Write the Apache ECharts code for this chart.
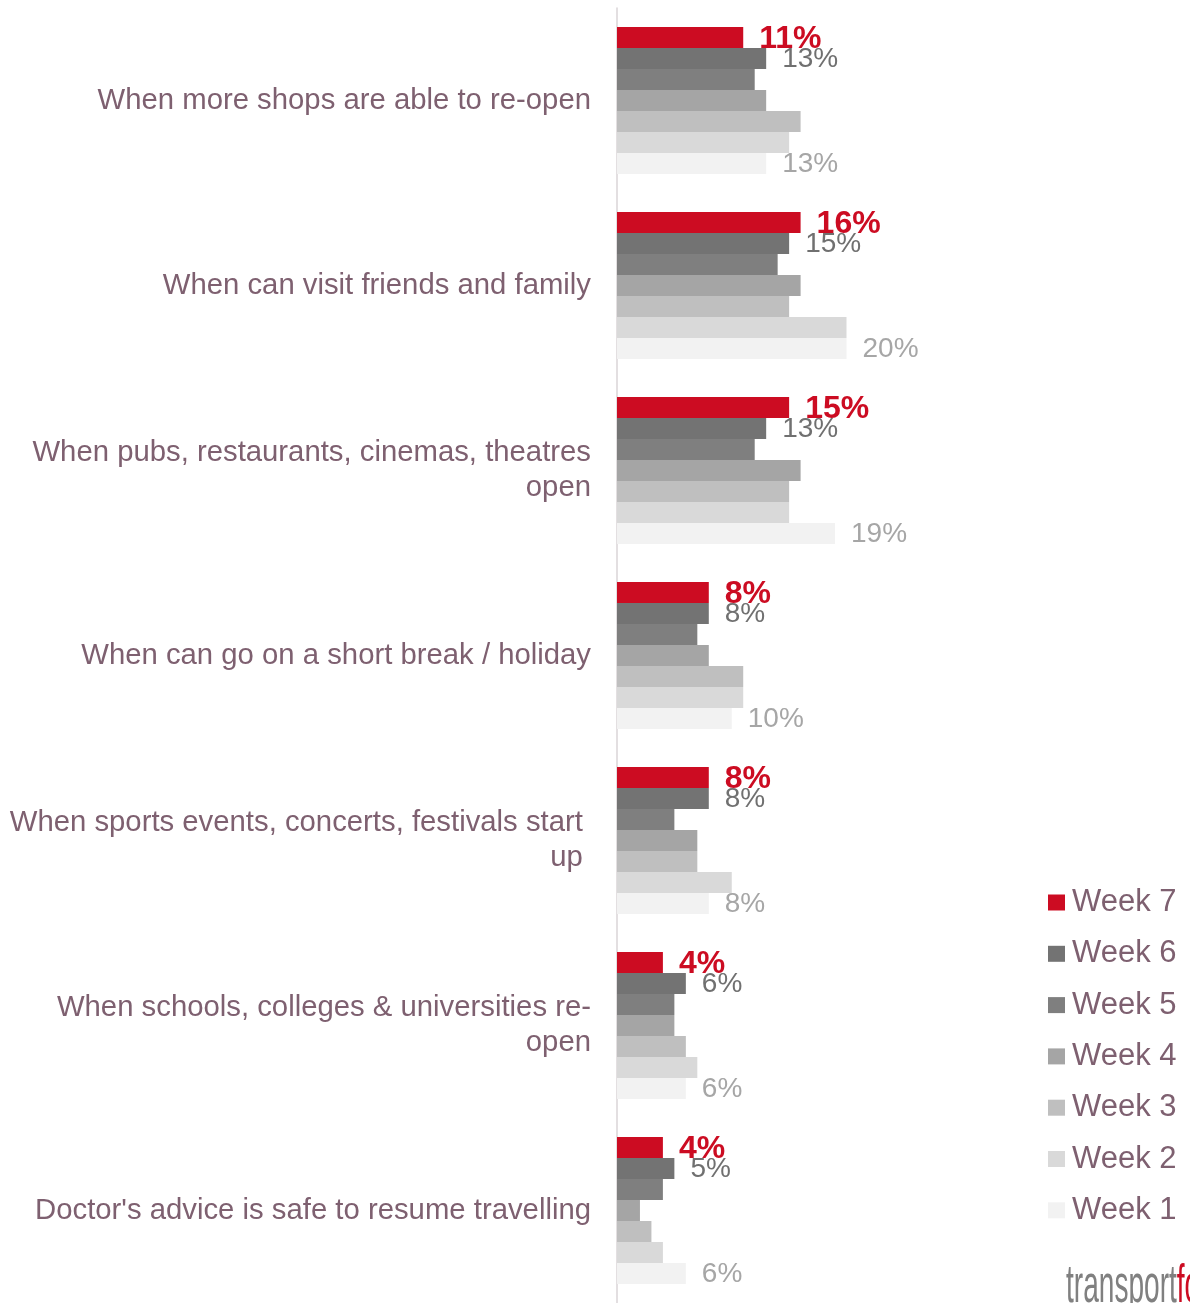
<!DOCTYPE html>
<html>
<head>
<meta charset="utf-8">
<script src="https://cdn.jsdelivr.net/npm/echarts@6/dist/echarts.min.js"></script>
<style>
html,body{margin:0;padding:0;background:#fff;}
#chart{width:1190px;height:1303px;}
</style>
</head>
<body>
<div id="chart"></div>
<script>
var categories = [
  "When more shops are able to re-open",
  "When can visit friends and family",
  "When pubs, restaurants, cinemas, theatres\nopen",
  "When can go on a short break / holiday",
  "When sports events, concerts, festivals start \nup ",
  "When schools, colleges & universities re-\nopen",
  "Doctor's advice is safe to resume travelling"
];
var seriesNames = ["Week 7", "Week 6", "Week 5", "Week 4", "Week 3", "Week 2", "Week 1"];
var week7 = [11, 16, 15, 8, 8, 4, 4];
var week6 = [13, 15, 13, 8, 8, 6, 5];
var week5 = [12, 14, 12, 7, 5, 5, 4];
var week4 = [13, 16, 16, 8, 7, 5, 2];
var week3 = [16, 15, 15, 11, 7, 6, 3];
var week2 = [15, 20, 15, 11, 10, 7, 4];
var week1 = [13, 20, 19, 10, 8, 6, 6];
var seriesValues = [week7, week6, week5, week4, week3, week2, week1];
var seriesColors = ["#cc0c22", "#737373", "#7f7f7f", "#a5a5a5", "#bfbfbf", "#d9d9d9", "#f2f2f2"];

var FONT = "'Liberation Sans', Arial, sans-serif";
var TEXT_COLOR = "#7e6070";

var labelStyles = {
  "Week 7": { show: true, color: "#cc0c22", fontWeight: "bold", fontSize: 32, offset: [0, 2] },
  "Week 6": { show: true, color: "#707070", fontSize: 28, offset: [0, 1] },
  "Week 1": { show: true, color: "#a6a6a6", fontSize: 28, offset: [0, 1] }
};

var series = seriesNames.map(function (name, i) {
  var ls = labelStyles[name] || { show: false };
  return {
    name: name,
    type: "bar",
    data: seriesValues[i],
    barGap: "0%",
    barCategoryGap: "20.5%",
    itemStyle: { color: seriesColors[i] },
    label: {
      show: ls.show,
      position: "right",
      distance: 16,
      offset: ls.offset || [0, 0],
      formatter: "{c}%",
      color: ls.color,
      fontSize: ls.fontSize,
      fontWeight: ls.fontWeight || "normal",
      fontFamily: FONT
    },
    emphasis: { disabled: true },
    animation: false
  };
});

var LOGO_FONT = "'Liberation Sans', Arial, sans-serif";

var chart = echarts.init(document.getElementById("chart"), null, { renderer: "canvas" });
chart.setOption({
  backgroundColor: "#ffffff",
  animation: false,
  textStyle: { fontFamily: FONT },
  grid: { left: 617, right: 114, top: 8, bottom: 0, containLabel: false },
  xAxis: {
    type: "value",
    min: 0,
    max: 40,
    show: false
  },
  yAxis: {
    type: "category",
    data: categories,
    inverse: true,
    axisTick: { show: false },
    axisLine: { show: true, lineStyle: { color: "#dad5d7", width: 1.5 } },
    axisLabel: {
      color: TEXT_COLOR,
      fontSize: 29.3,
      lineHeight: 35,
      margin: 26,
      fontFamily: FONT
    },
    splitLine: { show: false }
  },
  legend: {
    orient: "vertical",
    left: 1048,
    top: 887,
    padding: 0,
    itemWidth: 17,
    itemHeight: 16,
    itemGap: 20.3,
    icon: "rect",
    data: seriesNames,
    textStyle: { color: TEXT_COLOR, fontSize: 31, lineHeight: 30, fontFamily: FONT, padding: [0, 0, 0, 2] }
  },
  graphic: [{
    type: "text",
    x: 1066,
    y: 1314,
    scaleX: 0.52,
    z: 100,
    style: {
      text: "{a|transport}{b|focus}",
      verticalAlign: "bottom",
      font: "54px " + LOGO_FONT,
      rich: {
        a: { fill: "#808080", fontSize: 54, fontFamily: LOGO_FONT },
        b: { fill: "#cc0c22", fontSize: 54, fontFamily: LOGO_FONT }
      }
    }
  }],
  series: series
});
</script>
</body>
</html>
